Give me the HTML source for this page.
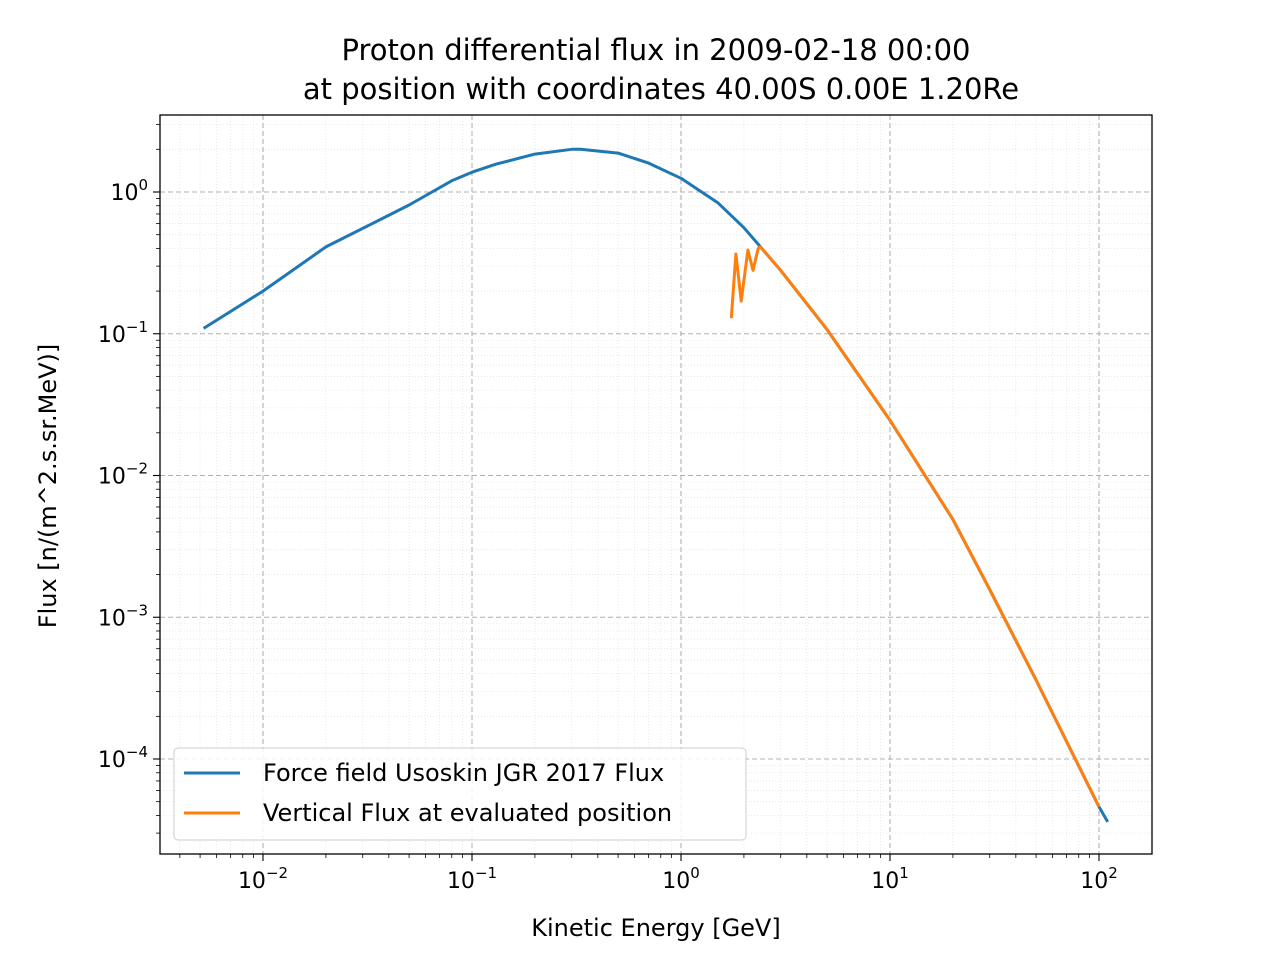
<!DOCTYPE html>
<html><head><meta charset="utf-8"><style>
body{margin:0;background:#fff;font-family:"Liberation Sans","DejaVu Sans",sans-serif}
svg text{font-family:"DejaVu Sans","Liberation Sans",sans-serif}
</style></head><body>
<svg id="c" xmlns="http://www.w3.org/2000/svg" width="1280" height="960"></svg>
<script>
var blueE=[0.0052,0.01,0.02,0.05,0.08,0.1,0.13,0.2,0.3,0.33,0.5,0.7,1.0,1.5,2.0,2.4,3,5,10,20,30,50,100,110];
var blueF=[0.109,0.2,0.41,0.81,1.2,1.38,1.57,1.85,2.0,2.0,1.88,1.6,1.25,0.84,0.56,0.41,0.28,0.107,0.0245,0.0049,0.00157,0.00036,4.6e-5,3.6e-5];
var orangeE=[1.74,1.83,1.94,2.09,2.21,2.34,2.4,3,5,10,20,30,50,100];
var orangeF=[0.129,0.365,0.17,0.39,0.28,0.40,0.41,0.28,0.107,0.0245,0.0049,0.00157,0.00036,4.6e-5];
var xTicks=[-2,-1,0,1,2];
var yTicks=[0,-1,-2,-3,-4];
var NS="http://www.w3.org/2000/svg";
var svgEl=document.getElementById('c');
var PL=160,PR=1152,PT=115,PB=854;
function sx(v){return 263+(Math.log10(v)+2)*209;}
function sy(v){return 192-Math.log10(v)*141.75;}
function mk(t,a,p){var e=document.createElementNS(NS,t);for(var k in a)e.setAttribute(k,a[k]);(p||svgEl).appendChild(e);return e;}
function powLabel(x,y,anchor,p){
  var tx=mk('text',{x:x,y:y,'text-anchor':anchor,'font-size':22});
  var a=document.createElementNS(NS,'tspan');a.textContent='10';tx.appendChild(a);
  var b=document.createElementNS(NS,'tspan');b.setAttribute('dy','-10');b.setAttribute('font-size','15');b.textContent=(p<0?'\u2212'+(-p):String(p));tx.appendChild(b);
  return tx;
}
var d,m,x,y,l;
for(d=-3;d<=2;d++)for(m=2;m<10;m++){x=sx(m*Math.pow(10,d));if(x>PL&&x<PR){
l=mk('line',{x1:x,x2:x,y1:PT,y2:PB,stroke:'#e4e4e4','stroke-dasharray':'1,2','stroke-width':0.8});


l=mk('line',{x1:x,x2:x,y1:PB,y2:PB+4,stroke:'#000','stroke-width':0.8});

}}
for(d=-5;d<=0;d++)for(m=2;m<10;m++){y=sy(m*Math.pow(10,d));if(y>PT&&y<PB){
l=mk('line',{x1:PL,x2:PR,y1:y,y2:y,stroke:'#e4e4e4','stroke-dasharray':'1,2','stroke-width':0.8});


l=mk('line',{x1:PL-4,x2:PL,y1:y,y2:y,stroke:'#000','stroke-width':0.8});

}}
xTicks.forEach(function(p){var x=sx(Math.pow(10,p));
var g=mk('line',{x1:x,x2:x,y1:PT,y2:PB,stroke:'#b0b0b0','stroke-dasharray':'5,3','stroke-width':1.1});


var t=mk('line',{x1:x,x2:x,y1:PB,y2:PB+7,stroke:'#000','stroke-width':1.1});


var tx=powLabel(x,PB+34,'middle',p);

});
yTicks.forEach(function(p){var y=sy(Math.pow(10,p));
var g=mk('line',{x1:PL,x2:PR,y1:y,y2:y,stroke:'#b0b0b0','stroke-dasharray':'5,3','stroke-width':1.1});


var t=mk('line',{x1:PL-7,x2:PL,y1:y,y2:y,stroke:'#000','stroke-width':1.1});


var tx=powLabel(PL-12,y+8,'end',p);

});
function drawLine(E,F,c,n){var s='';for(var i=0;i<E.length;i++){s+=(i?'L':'M')+sx(E[i]).toFixed(1)+','+sy(F[i]).toFixed(1);}
var p=mk('path',{d:s,fill:'none',stroke:c,'stroke-width':3,'stroke-linejoin':'round'});

}
drawLine(blueE,blueF,'#1f77b4','force-field-flux-line');
drawLine(orangeE,orangeF,'#ff7f0e','vertical-flux-line');
var fr=mk('rect',{x:PL,y:PT,width:PR-PL,height:PB-PT,fill:'none',stroke:'#000','stroke-width':1.3});


var lg=mk('g',{});


mk('rect',{x:174,y:748,width:572,height:92,rx:4,fill:'#fff','fill-opacity':0.85,stroke:'#ccc'},lg);
mk('line',{x1:184,x2:240,y1:773,y2:773,stroke:'#1f77b4','stroke-width':3},lg);
mk('line',{x1:184,x2:240,y1:813,y2:813,stroke:'#ff7f0e','stroke-width':3},lg);
var t1=mk('text',{x:263,y:781,'font-size':24},lg);t1.textContent='Force field Usoskin JGR 2017 Flux';


var t2=mk('text',{x:263,y:821,'font-size':24},lg);t2.textContent='Vertical Flux at evaluated position';


var ti=mk('text',{x:656,y:60,'text-anchor':'middle','font-size':29});ti.textContent='Proton differential flux in 2009-02-18 00:00';


var ti2=mk('text',{x:661,y:99,'text-anchor':'middle','font-size':29});ti2.textContent='at position with coordinates 40.00S 0.00E 1.20Re';


var xl=mk('text',{x:656,y:936,'text-anchor':'middle','font-size':24});xl.textContent='Kinetic Energy [GeV]';


var yl=mk('text',{x:56,y:486,'text-anchor':'middle','font-size':24,transform:'rotate(-90 56 486)'});yl.textContent='Flux [n/(m^2.s.sr.MeV)]';


</script>
</body></html>
